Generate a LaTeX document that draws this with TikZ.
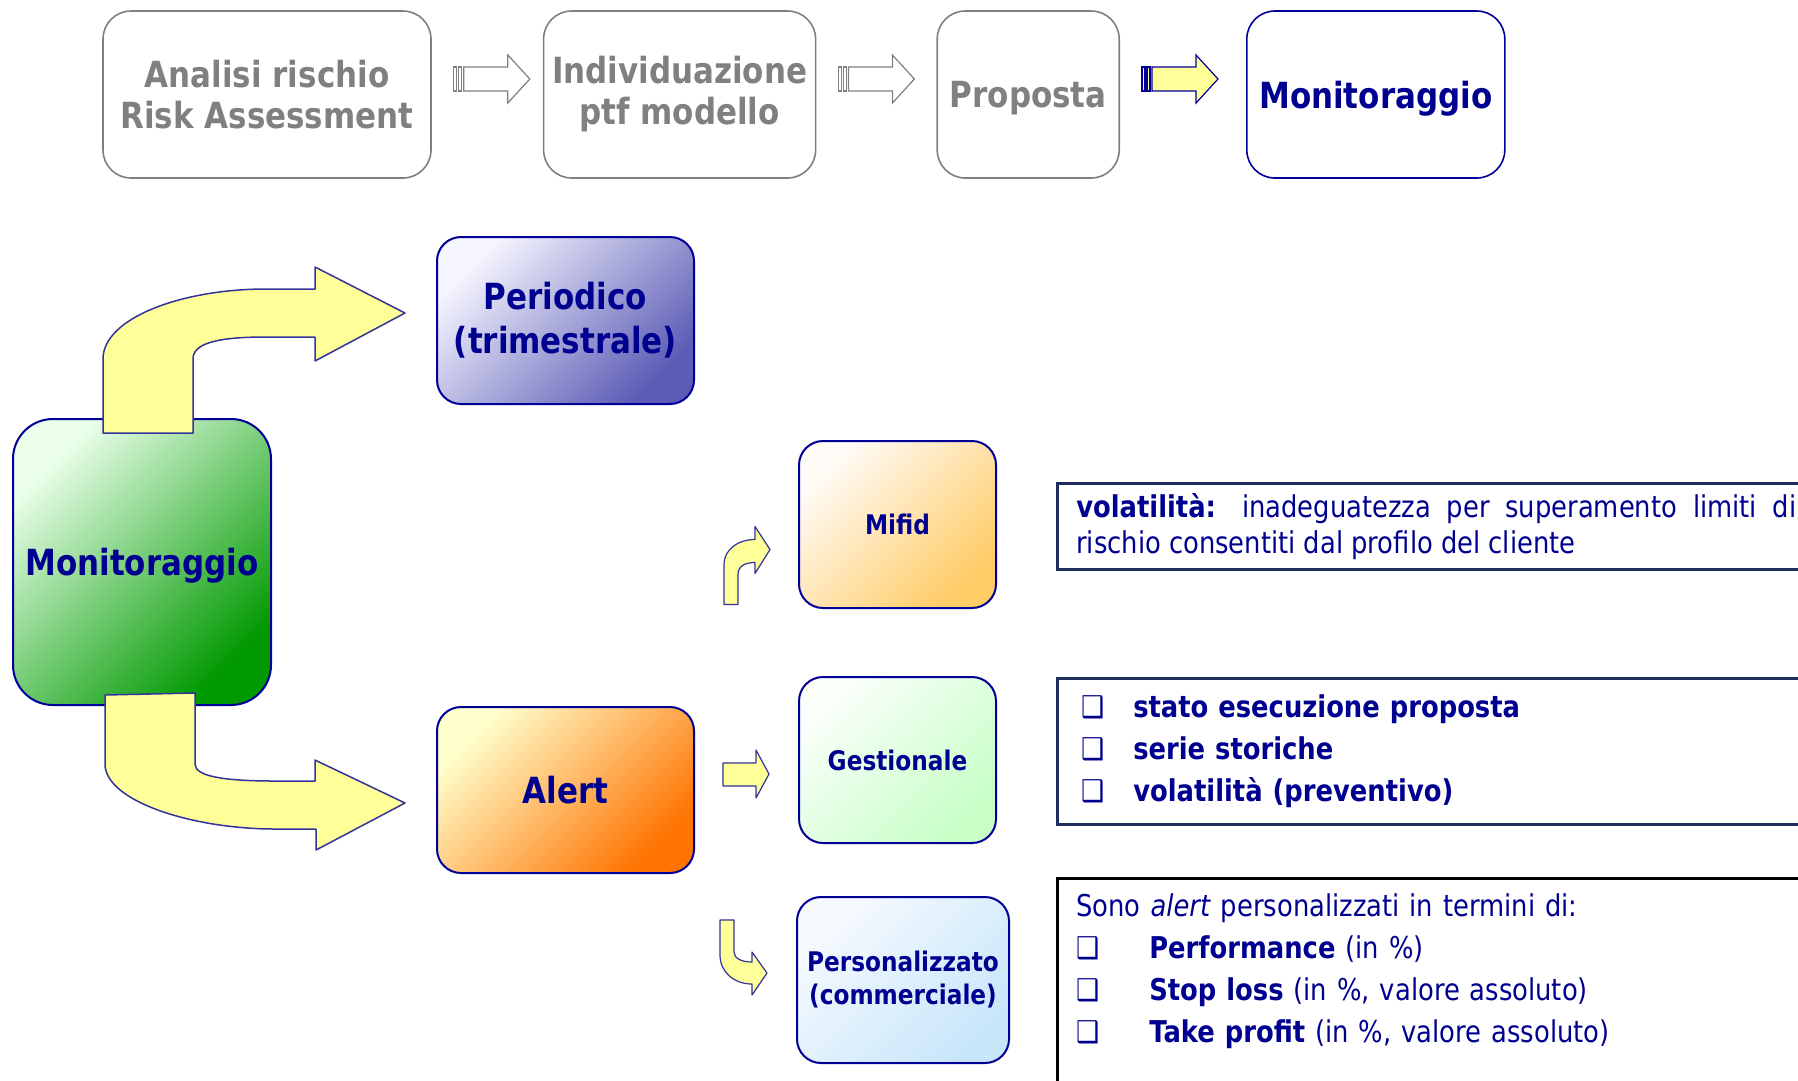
\documentclass[tikz,border=0pt]{standalone}
\usepackage{fontspec}
\setmainfont{DejaVu Sans}[FakeStretch=0.86]
\usepackage{xcolor}
\usepackage{tikz}
\usetikzlibrary{positioning}
\usetikzlibrary{calc}

\definecolor{navytext}{RGB}{0,0,144}
\definecolor{navyline}{RGB}{0,0,153}
\definecolor{greytext}{RGB}{128,128,128}
\definecolor{arrowfill}{RGB}{255,255,153}
\definecolor{arrowline}{RGB}{51,51,153}
\definecolor{infoline}{RGB}{31,45,95}
\definecolor{perdark}{RGB}{92,92,182}
\definecolor{mifdark}{RGB}{255,204,102}
\definecolor{persdark}{RGB}{200,230,250}
\definecolor{perslight}{RGB}{246,250,254}

\newcommand{\listmark}[1]{\makebox[#1][l]{\mdseries ❑}}

\begin{document}
\begin{tikzpicture}[x=1pt,y=-1pt,
  stagebox/.style={draw=greytext,line width=1.6pt,fill=white,rounded corners=28pt,
    text=greytext,align=center,minimum height=167pt,
    font=\fontsize{36}{41}\selectfont\bfseries},
  stagenow/.style={stagebox,draw=navyline,text=navytext},
  fade/.style 2 args={top color=#1,bottom color=#2,shading angle=45},
  kindbox/.style={draw=navyline,line width=2pt,rounded corners=24pt,text=navytext,
    align=center,minimum width=257pt,minimum height=167pt,
    font=\fontsize{36}{44}\selectfont\bfseries},
  typebox/.style={kindbox,minimum width=197pt,font=\fontsize{27}{33}\selectfont\bfseries},
  infobox/.style={draw=infoline,line width=2.5pt,text=navytext,text width=720pt,
    inner xsep=19pt,font=\fontsize{30}{36}\selectfont},
  bigarrow/.style={draw=arrowline,fill=arrowfill,line width=1.5pt,line join=round}]
\useasboundingbox (0,0) rectangle (1798,1080);
\clip (0,0) rectangle (1798,1080);
\fill[white] (0,0) rectangle (1798,1080);

\node[stagebox,minimum width=328pt] (risk) at (267,94.5) {Analisi rischio\\Risk Assessment};
\node[stagebox,minimum width=272pt,right=111pt of risk] (ptf) {Individuazione\\ptf modello};
\node[stagebox,minimum width=182pt,text depth=0pt,right=120pt of ptf] (prop) {Proposta};
\node[stagenow,minimum width=258pt,text depth=0pt,right=126pt of prop] (montop) {Monitoraggio};

\foreach \from/\fillc/\linec in {risk/white/greytext,ptf/white/greytext,prop/arrowfill/navyline} {
  \begin{scope}[shift={($(\from.east)+(22,-15.5)$)},draw=\linec,fill=\fillc,line width=1.2pt]
    \filldraw (0,-12) rectangle (3,12);
    \filldraw (5,-12) rectangle (8,12);
    \filldraw (10,-12) -- (54,-12) -- (54,-24) -- (76,0) -- (54,24) -- (54,12) -- (10,12) -- cycle;
  \end{scope}
}

\node[kindbox,rounded corners=40pt,minimum width=258pt,minimum height=286pt,text depth=0pt,
  fade={white!92!green}{green!60!black}] (mon) at (142,562) {Monitoraggio};
\node[kindbox,fade={white!96!blue}{perdark}] (per) at (565.5,320.5) {Periodico\\(trimestrale)};
\node[kindbox,minimum height=166pt,fade={yellow!20!white}{orange!90!red}] (alert) at (565.5,790) {Alert};

\node[typebox,fade={orange!3!white}{mifdark}] (mif) at (897.5,524.5) {Mifid};
\node[typebox,minimum height=166pt,fade={green!2!white}{green!22!white}] (ges) at (897.5,760) {Gestionale};
\node[typebox,minimum width=212pt,minimum height=166pt,fade={perslight}{persdark}] (pers) at (903,980) {Personalizzato\\(commerciale)};

\draw[bigarrow,shift={(mon.north)}] (-39,15) -- (-39,-59)
  .. controls (-39,-100) and (40,-129) .. (124,-129) -- (173,-129) -- (173,-151)
  -- (263,-105) -- (173,-57) -- (173,-81) -- (124,-81)
  .. controls (73,-81) and (51,-74) .. (51,-59) -- (51,15) -- cycle;
\draw[bigarrow,shift={(mon.south)}] (-37,-11) -- (53,-13) -- (53,58)
  .. controls (53,70) and (80,75) .. (133,75) -- (173,75) -- (173,54)
  -- (263,97) -- (174,144) -- (174,123) -- (133,123)
  .. controls (50,123) and (-37,95) .. (-37,58) -- cycle;

\draw[bigarrow,line width=1.2pt,shift={(mif.west)}] (-74,80) -- (-74,40)
  .. controls (-74,25) and (-60,15) .. (-43,15) -- (-43,2) -- (-28,25) -- (-43,49)
  -- (-43,38) .. controls (-52,38) and (-60,41) .. (-60,50) -- (-60,80) -- cycle;
\draw[bigarrow,line width=1.2pt,shift={(ges.west)}] (-75,3) -- (-42,3) -- (-42,-10)
  -- (-29,14) -- (-42,38) -- (-42,26) -- (-75,26) -- cycle;
\draw[bigarrow,line width=1.2pt,shift={(pers.west)}] (-76,-60) -- (-62,-60) -- (-62,-28)
  .. controls (-62,-22) and (-55,-18) .. (-44,-18) -- (-44,-28) -- (-29,-7) -- (-44,15)
  -- (-44,4) .. controls (-62,4) and (-76,-8) .. (-76,-25) -- cycle;

\node[infobox,align=justify,anchor=north west,minimum height=86pt] (mifinfo) at (1056,482)
  {\textbf{volatilità:} inadeguatezza per superamento limiti di\linebreak rischio consentiti dal profilo del cliente};
\node[infobox,align=left,inner xsep=24pt,anchor=north west,minimum height=146pt,
  font=\fontsize{30}{42}\selectfont\bfseries] (gesinfo) at (1056,677)
  {\listmark{52pt}stato esecuzione proposta\\\listmark{52pt}serie storiche\\\listmark{52pt}volatilità (preventivo)};
\node[infobox,draw=black,align=left,anchor=north west,inner ysep=15pt,
  font=\fontsize{30}{42}\selectfont] (persinfo) at (1056,877)
  {Sono \textit{alert} personalizzati in termini di:\\
   \listmark{73pt}\textbf{Performance} (in \%)\\
   \listmark{73pt}\textbf{Stop loss} (in \%, valore assoluto)\\
   \listmark{73pt}\textbf{Take profit} (in \%, valore assoluto)\\[40pt]\mbox{}};
\end{tikzpicture}
\end{document}
